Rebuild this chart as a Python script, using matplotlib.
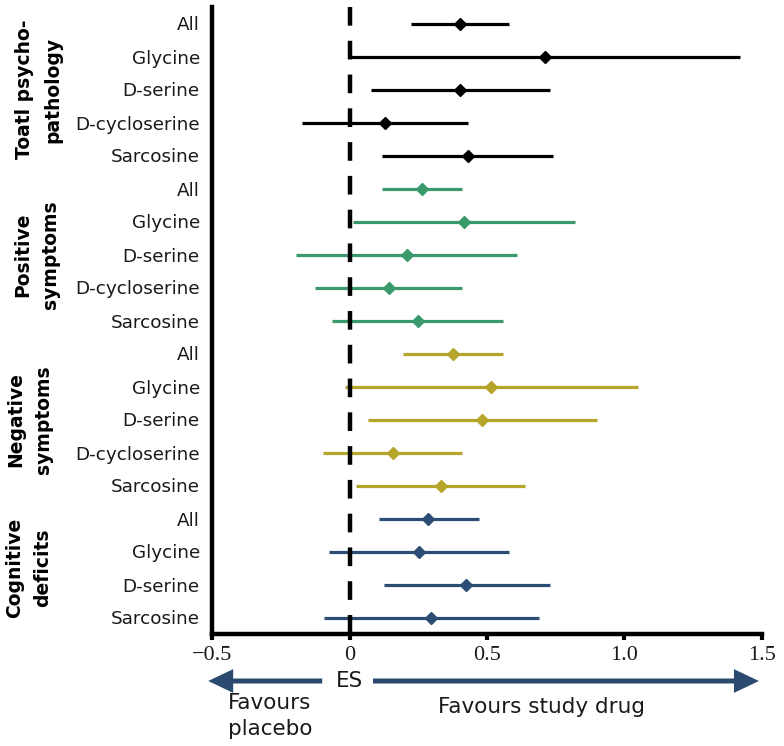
import matplotlib
matplotlib.use("Agg")
import matplotlib.pyplot as plt
from matplotlib import transforms
import numpy as np

# ---------------- data ----------------
groups = ["Toatl psycho-\npathology", "Positive\nsymptoms", "Negative\nsymptoms", "Cognitive\ndeficits"]
group_colors = ["#000000", "#3a9a6c", "#b5a52a", "#2b4c73"]

total_labels = ["All", "Glycine", "D-serine", "D-cycloserine", "Sarcosine"]
total_es = [0.40, 0.71, 0.40, 0.127, 0.43]
total_lo = [0.225, 0.0, 0.076, -0.175, 0.116]
total_hi = [0.58, 1.42, 0.73, 0.43, 0.74]

positive_labels = ["All", "Glycine", "D-serine", "D-cycloserine", "Sarcosine"]
positive_es = [0.264, 0.418, 0.21, 0.144, 0.25]
positive_lo = [0.116, 0.013, -0.194, -0.125, -0.065]
positive_hi = [0.41, 0.82, 0.61, 0.41, 0.56]

negative_labels = ["All", "Glycine", "D-serine", "D-cycloserine", "Sarcosine"]
negative_es = [0.377, 0.516, 0.48, 0.159, 0.332]
negative_lo = [0.196, -0.016, 0.067, -0.096, 0.024]
negative_hi = [0.56, 1.05, 0.90, 0.41, 0.64]

cognitive_labels = ["All", "Glycine", "D-serine", "Sarcosine"]
cognitive_es = [0.287, 0.253, 0.425, 0.297]
cognitive_lo = [0.107, -0.075, 0.126, -0.095]
cognitive_hi = [0.47, 0.58, 0.73, 0.69]

x_ticks = [-0.5, 0, 0.5, 1.0, 1.5]
x_ticklabels = ["\u22120.5", "0", "0.5", "1.0", "1.5"]

# ---------------- figure ----------------
fig = plt.figure(figsize=(7.84, 7.46), dpi=100)
W, H = 784, 746
ax = fig.add_axes([212.3 / W, 1 - 634 / H, (761.7 - 212.3) / W, (634 - 7) / H])

series = [
    (total_labels, total_es, total_lo, total_hi),
    (positive_labels, positive_es, positive_lo, positive_hi),
    (negative_labels, negative_es, negative_lo, negative_hi),
    (cognitive_labels, cognitive_es, cognitive_lo, cognitive_hi),
]

all_labels = []
group_rows = []
pos = 0
for (labels, es, lo, hi), col in zip(series, group_colors):
    ys = np.arange(pos, pos + len(labels))
    group_rows.append(ys)
    ax.hlines(ys, lo, hi, colors=col, lw=2.3, zorder=2)
    ax.plot(es, ys, ls="none", marker="D", ms=6.5, color=col, mec=col, zorder=4)
    all_labels += labels
    pos += len(labels)

n = len(all_labels)
ax.set_ylim(n - 0.5, -0.5)
ax.set_xlim(-0.5, 1.5)

# dashed zero line
ax.plot([0, 0], [-0.5, n - 0.5], color="black", lw=3.2, zorder=3,
        dashes=(4.2, 3.4), solid_capstyle="butt", dash_capstyle="butt", clip_on=False)

ax.set_yticks(np.arange(n))
ax.set_yticklabels(all_labels, fontsize=13.2, color="#1a1a1a", family="DejaVu Sans")
ax.tick_params(axis="y", length=0, pad=9)

ax.set_xticks(x_ticks)
ax.set_xticklabels(x_ticklabels, fontsize=16, color="#1a1a1a", family="Liberation Serif")
ax.tick_params(axis="x", length=4, width=3, pad=5, direction="out")

for s in ["top", "right"]:
    ax.spines[s].set_visible(False)
for s in ["left", "bottom"]:
    ax.spines[s].set_linewidth(3.2)
    ax.spines[s].set_capstyle("projecting")

# group labels
trans = transforms.blended_transform_factory(fig.transFigure, ax.transData)
group_x = [38.5, 36.5, 30, 29]
for g, ys, gx in zip(groups, group_rows, group_x):
    fig.text(gx / W, ys.mean(), g, transform=trans, rotation=90, ha="center", va="center",
             multialignment="center", fontsize=13.5, fontweight="bold", family="DejaVu Sans",
             linespacing=1.6)

# arrows and annotation beneath the axis
arrow_col = "#2b4a6f"
bt = transforms.blended_transform_factory(ax.transData, ax.transAxes)
y_arrow = (634 - 681) / 627
aprops = dict(arrowstyle="-|>,head_length=0.8,head_width=0.38", mutation_scale=15,
              color=arrow_col, lw=3.6, shrinkA=0, shrinkB=0, capstyle="butt",
              joinstyle="miter")
ax.annotate("", xy=(-0.515, y_arrow), xytext=(-0.10, y_arrow), xycoords=bt, textcoords=bt,
            arrowprops=aprops, annotation_clip=False)
ax.annotate("", xy=(1.49, y_arrow), xytext=(0.085, y_arrow), xycoords=bt, textcoords=bt,
            arrowprops=aprops, annotation_clip=False)
ax.text(0, y_arrow, "ES", transform=bt, ha="center", va="center", fontsize=15.5,
        color="#1a1a1a", family="DejaVu Sans")
ax.text(-0.443, (634 - 693) / 627, "Favours\nplacebo", transform=bt, ha="left", va="top",
        fontsize=15.5, color="#1a1a1a", family="DejaVu Sans", linespacing=1.35)
ax.text(0.697, (634 - 707) / 627, "Favours study drug", transform=bt, ha="center", va="center",
        fontsize=15.5, color="#1a1a1a", family="DejaVu Sans")

fig.savefig("out.png", dpi=100)
